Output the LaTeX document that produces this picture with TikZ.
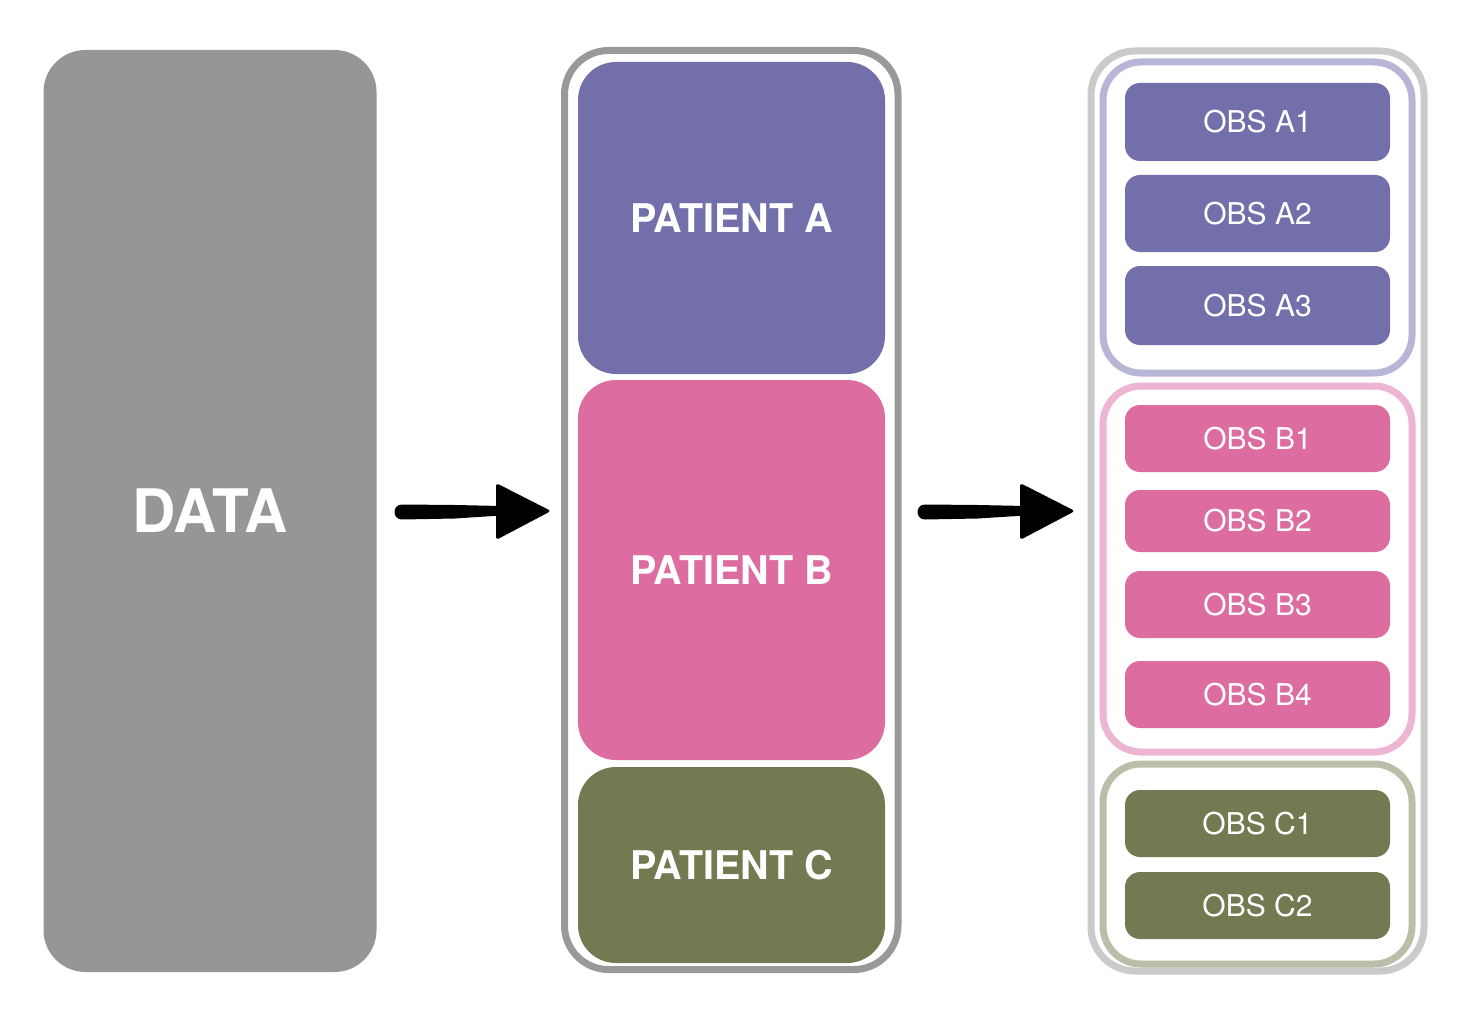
\documentclass[tikz,border=0pt]{standalone}
\usepackage{fontspec}
\setmainfont{TeX Gyre Heros}
\definecolor{datagray}{HTML}{969696}
\definecolor{midgray}{HTML}{999999}
\definecolor{lightgray}{HTML}{CACACA}
\definecolor{pa}{HTML}{736FAB}
\definecolor{pb}{HTML}{DD6CA0}
\definecolor{pc}{HTML}{717A50}
\definecolor{pal}{HTML}{B8B6D6}
\definecolor{pbl}{HTML}{EDB5D1}
\definecolor{pcl}{HTML}{BABFA9}
\tikzset{
  box/.style={inner sep=0pt, outer sep=0pt, text=white, align=center},
  bigbox/.style={box, rounded corners=40pt},
  frame/.style={box, draw, fill=none, line width=7pt, rounded corners=44pt},
  group/.style={box, draw, fill=none, line width=7pt, rounded corners=38pt},
  obs/.style={box, rounded corners=15pt, minimum width=265pt, font=\fontsize{30}{32}\selectfont},
  pat/.style={box, rounded corners=38pt, minimum width=307pt, font=\fontsize{39.5}{41}\selectfont\bfseries},
  brush/.style={fill=black},
}
\usetikzlibrary{calc}
\newcommand{\brusharrow}[2]{%
  % #1 = start x of shaft, #2 = tip x
  \coordinate (s) at (#1,512);
  \coordinate (t) at (#2,511);
  \fill[brush] ($(s)+(7,-7.5)$) .. controls ($(s)+(-3,-7.5)$) and ($(s)+(-3,7.5)$) .. ($(s)+(7,7.5)$)
     -- ($(s)+(60,6.5)$) -- ($(t)+(-50,4.5)$) -- ($(t)+(-50,-5)$) -- ($(s)+(60,-7)$) -- cycle;
  \fill[brush, rounded corners=3pt] ($(t)+(-55,-28)$) -- (t) -- ($(t)+(-55,29)$) -- cycle;
}
\begin{document}
\begin{tikzpicture}[x=1pt, y=-1pt]
\useasboundingbox (0,0) rectangle (1469,1019);
\fill[white] (0,0) rectangle (1469,1019);

% DATA
\node[bigbox, fill=datagray, rounded corners=42pt, minimum width=333pt, minimum height=922pt,
      font=\fontsize{60}{62}\selectfont\bfseries] (data) at (210,511) {DATA};

% middle column
\node[frame, draw=midgray, minimum width=333.5pt, minimum height=919pt] (mid) at (731.25,510) {};
\node[pat, fill=pa, minimum height=312pt] (A) at (731.5,218) {PATIENT A};
\node[pat, fill=pb, minimum height=380pt] (B) at (731.5,570) {PATIENT B};
\node[pat, fill=pc, minimum height=196pt] (C) at (731.5,865) {PATIENT C};

% right column
\node[frame, draw=lightgray, minimum width=333pt, minimum height=920pt] (right) at (1257.5,511) {};
\node[group, draw=pal, minimum width=309pt, minimum height=311pt] (gA) at (1257.5,217.5) {};
\node[group, draw=pbl, minimum width=309pt, minimum height=366pt] (gB) at (1257.5,569) {};
\node[group, draw=pcl, minimum width=309pt, minimum height=200pt] (gC) at (1257.5,864) {};

\node[obs, fill=pa, minimum height=78pt] (a1) at (1257.5,122) {OBS A1};
\node[obs, fill=pa, minimum height=77pt] (a2) at (1257.5,213.5) {OBS A2};
\node[obs, fill=pa, minimum height=79pt] (a3) at (1257.5,305.5) {OBS A3};
\node[obs, fill=pb, minimum height=67pt] (b1) at (1257.5,438.5) {OBS B1};
\node[obs, fill=pb, minimum height=62pt] (b2) at (1257.5,521) {OBS B2};
\node[obs, fill=pb, minimum height=67pt] (b3) at (1257.5,604.5) {OBS B3};
\node[obs, fill=pb, minimum height=67pt] (b4) at (1257.5,694.5) {OBS B4};
\node[obs, fill=pc, minimum height=67pt] (c1) at (1257.5,823.5) {OBS C1};
\node[obs, fill=pc, minimum height=67pt] (c2) at (1257.5,905.5) {OBS C2};

% arrows
\brusharrow{395}{551}
\brusharrow{918}{1075}
\end{tikzpicture}
\end{document}
